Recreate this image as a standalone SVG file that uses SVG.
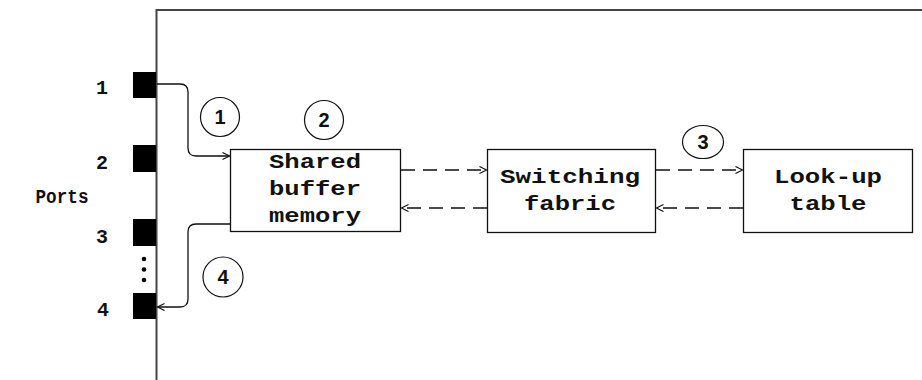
<svg xmlns="http://www.w3.org/2000/svg" width="922" height="380" viewBox="0 0 922 380">
<style>
.box{fill:#fff;stroke:#111;stroke-width:1.3}
.lbl{font-family:"Liberation Mono",monospace;font-weight:bold;font-size:20px;fill:#111;text-anchor:middle}
.plbl{font-family:"Liberation Mono",monospace;font-weight:bold;font-size:20px;fill:#111;text-anchor:middle}
.num{font-family:"Liberation Sans",Arial,sans-serif;font-weight:bold;font-size:20px;fill:#111;text-anchor:middle}
.circ{fill:none;stroke:#111;stroke-width:1.2}
.ln{fill:none;stroke:#111;stroke-width:1.3}
.dash{fill:none;stroke:#111;stroke-width:1.3;stroke-dasharray:14 8}
.port{fill:#000}
</style>
<defs>
<marker id="arr" markerWidth="10" markerHeight="10" refX="8" refY="4" orient="auto" markerUnits="userSpaceOnUse">
<path d="M1,0.5 L8,4 L1,7.5" fill="none" stroke="#111" stroke-width="1.2"/>
</marker>
</defs>
<rect width="922" height="380" fill="#fff"/>
<g id="frame">
<path d="M156.5,380 V10 H922" fill="none" stroke="#444" stroke-width="2"/>
</g>
<g id="ports">
<rect class="port" x="133" y="72" width="23" height="26"/>
<rect class="port" x="133" y="145" width="23" height="27"/>
<rect class="port" x="133" y="219" width="23" height="27"/>
<rect class="port" x="133" y="293" width="23" height="26"/>
<circle cx="144" cy="259" r="2.3" fill="#000"/>
<circle cx="144" cy="269.5" r="2.3" fill="#000"/>
<circle cx="144" cy="280" r="2.3" fill="#000"/>
<text class="plbl" x="102" y="94">1</text>
<text class="plbl" x="102" y="169">2</text>
<text class="plbl" x="62" y="203" textLength="53" lengthAdjust="spacingAndGlyphs">Ports</text>
<text class="plbl" x="102" y="243">3</text>
<text class="plbl" x="103" y="316">4</text>
</g>
<g id="buffer">
<rect class="box" x="230.5" y="149.5" width="170" height="82"/>
<text class="lbl" x="315" y="168" textLength="92" lengthAdjust="spacingAndGlyphs">Shared</text>
<text class="lbl" x="315" y="195" textLength="92" lengthAdjust="spacingAndGlyphs">buffer</text>
<text class="lbl" x="315" y="222" textLength="92" lengthAdjust="spacingAndGlyphs">memory</text>
</g>
<g id="fabric">
<rect class="box" x="487.5" y="149.5" width="168" height="83"/>
<text class="lbl" x="570" y="183" textLength="140" lengthAdjust="spacingAndGlyphs">Switching</text>
<text class="lbl" x="570" y="210" textLength="92" lengthAdjust="spacingAndGlyphs">fabric</text>
</g>
<g id="lookup">
<rect class="box" x="743.5" y="149.5" width="169" height="83"/>
<text class="lbl" x="828" y="183" textLength="108" lengthAdjust="spacingAndGlyphs">Look-up</text>
<text class="lbl" x="828" y="210" textLength="77" lengthAdjust="spacingAndGlyphs">table</text>
</g>
<g id="steps">
<circle class="circ" cx="220" cy="117" r="19.5"/>
<text class="num" x="220" y="124">1</text>
<circle class="circ" cx="324" cy="120" r="19.5"/>
<text class="num" x="324" y="127">2</text>
<ellipse class="circ" cx="703" cy="142" rx="20.5" ry="16.5"/>
<text class="num" x="703" y="149">3</text>
<circle class="circ" cx="223" cy="277" r="20"/>
<text class="num" x="223" y="284">4</text>
</g>
<g id="connectors">
<path class="ln" d="M157,84 H180 Q188,84 188,92 V148 Q188,156 196,156 H229.5" marker-end="url(#arr)"/>
<path class="ln" d="M230,224 H196 Q188,224 188,232 V299 Q188,307 180,307 H157.5" marker-end="url(#arr)"/>
<path class="dash" d="M401,170 H486.5" marker-end="url(#arr)"/>
<path class="dash" d="M487,208 H401.5" marker-end="url(#arr)"/>
<path class="dash" d="M656,170 H742.5" marker-end="url(#arr)"/>
<path class="dash" d="M743,208 H656.5" marker-end="url(#arr)"/>
</g>
</svg>
